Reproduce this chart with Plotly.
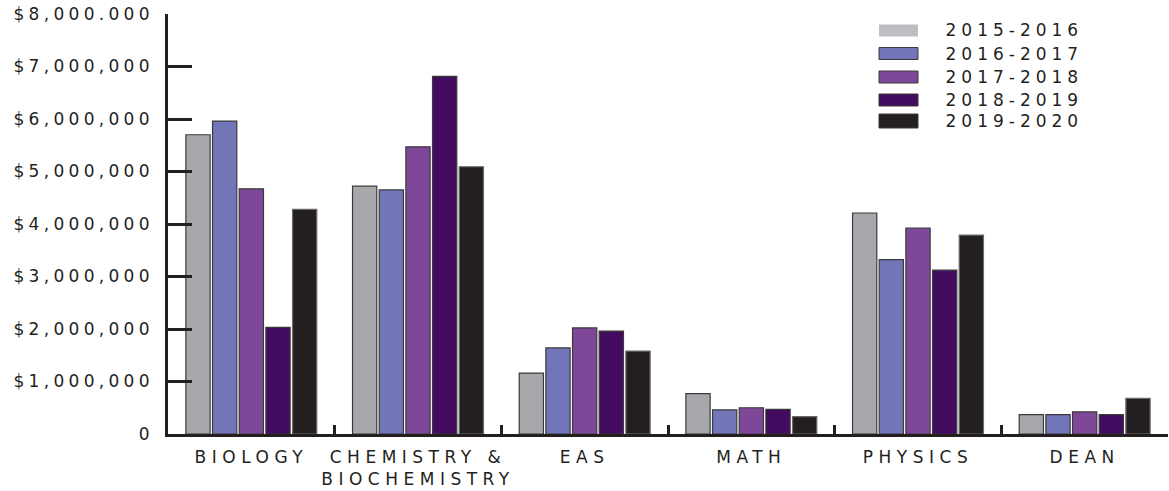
import plotly.graph_objects as go

# Departments (x categories) and fiscal years (series)
departments = ["BIOLOGY", "CHEMISTRY &<br>BIOCHEMISTRY", "EAS", "MATH", "PHYSICS", "DEAN"]
years = ["2015-2016", "2016-2017", "2017-2018", "2018-2019", "2019-2020"]

# Funding per department, one list per fiscal year (USD)
fy_2015_2016 = [5700000, 4720000, 1160000, 770000, 4210000, 370000]
fy_2016_2017 = [5960000, 4650000, 1640000, 460000, 3320000, 370000]
fy_2017_2018 = [4670000, 5470000, 2020000, 500000, 3920000, 420000]
fy_2018_2019 = [2030000, 6810000, 1960000, 470000, 3120000, 370000]
fy_2019_2020 = [4280000, 5090000, 1580000, 330000, 3790000, 680000]
series = [fy_2015_2016, fy_2016_2017, fy_2017_2018, fy_2018_2019, fy_2019_2020]

colors = ["#A7A8AB", "#7276B8", "#7E4798", "#420B5F", "#231F20"]
legend_colors = ["#BDBEC2", "#7276B8", "#7E4798", "#420B5F", "#231F20"]
outline = ["#3A3A3A", "#3A3A3A", "#3A3A3A", "#3A3A3A", "#6A6A6A"]

# Y axis ticks
y_tickvals = [0, 1000000, 2000000, 3000000, 4000000, 5000000, 6000000, 7000000, 8000000]
y_ticktext = ["0", "$1,000,000", "$2,000,000", "$3,000,000", "$4,000,000",
              "$5,000,000", "$6,000,000", "$7,000,000", "$8,000.000"]

INK = "#231F20"
FONT = "DejaVu Sans"

fig = go.Figure()
for name, vals, c, lc in zip(years, series, colors, outline):
    fig.add_trace(go.Bar(
        x=departments, y=vals, name=name,
        marker=dict(color=c, line=dict(color=lc, width=1.2)),
        showlegend=False,
    ))

# Legend drawn as swatches + labels in the upper right of the plot area
W, H = 1169, 491
ML, MR, MT, MB = 168, 1, 14, 57
pw, ph = W - ML - MR, H - MT - MB

def px_x(p):
    return (p - ML) / pw

def px_y(p):
    return (H - MB - p) / ph

shapes = []
annotations = []
row_y = [30.5, 53.5, 77, 100, 121]
for i, (name, c) in enumerate(zip(years, legend_colors)):
    cy = row_y[i]
    h = 7 if i == 4 else 6
    shapes.append(dict(
        type="rect", xref="paper", yref="paper",
        x0=px_x(879), x1=px_x(918), y0=px_y(cy + h), y1=px_y(cy - h),
        fillcolor=c,
        line=dict(color="#3A3A3A" if i > 0 else c, width=1 if i > 0 else 0),
    ))
    # letter-spacing widens the label around its centre, so the anchor sits
    # a little to the right of where the lettering should start
    annotations.append(dict(
        xref="paper", yref="paper", x=px_x(966), y=px_y(cy),
        xanchor="left", yanchor="middle", text=name, showarrow=False,
        font=dict(family=FONT, size=17, color=INK),
    ))

fig.update_layout(
    width=W, height=H,
    margin=dict(l=ML, r=MR, t=MT, b=MB),
    paper_bgcolor="white", plot_bgcolor="white",
    barmode="group", bargap=0.2, bargroupgap=0.09,
    shapes=shapes, annotations=annotations,
    font=dict(family=FONT, size=17, color=INK),
)
fig.update_xaxes(
    showline=True, linecolor=INK, linewidth=2.5,
    ticks="inside", tickson="boundaries", ticklen=9, tickwidth=2.5, tickcolor=INK,
    showgrid=False, tickfont=dict(family=FONT, size=17, color=INK),
    ticklabelstandoff=6,
)
fig.update_yaxes(
    range=[0, 8000000], showline=True, linecolor=INK, linewidth=2.5,
    tickvals=y_tickvals, ticktext=y_ticktext,
    ticks="inside", ticklen=24, tickwidth=2.5, tickcolor=INK,
    showgrid=False, zeroline=False,
    tickfont=dict(family=FONT, size=17, color=INK),
    ticklabelstandoff=8,
)

# Wide tracking for the axis and legend lettering
tracking_css = (
    "var s=document.createElement('style');"
    "s.textContent='.xtick text{letter-spacing:5.5px}"
    ".ytick text{letter-spacing:4.3px}"
    ".annotation-text{letter-spacing:5px}';"
    "document.head.appendChild(s);"
)

fig.write_html("out.html", post_script=tracking_css)
